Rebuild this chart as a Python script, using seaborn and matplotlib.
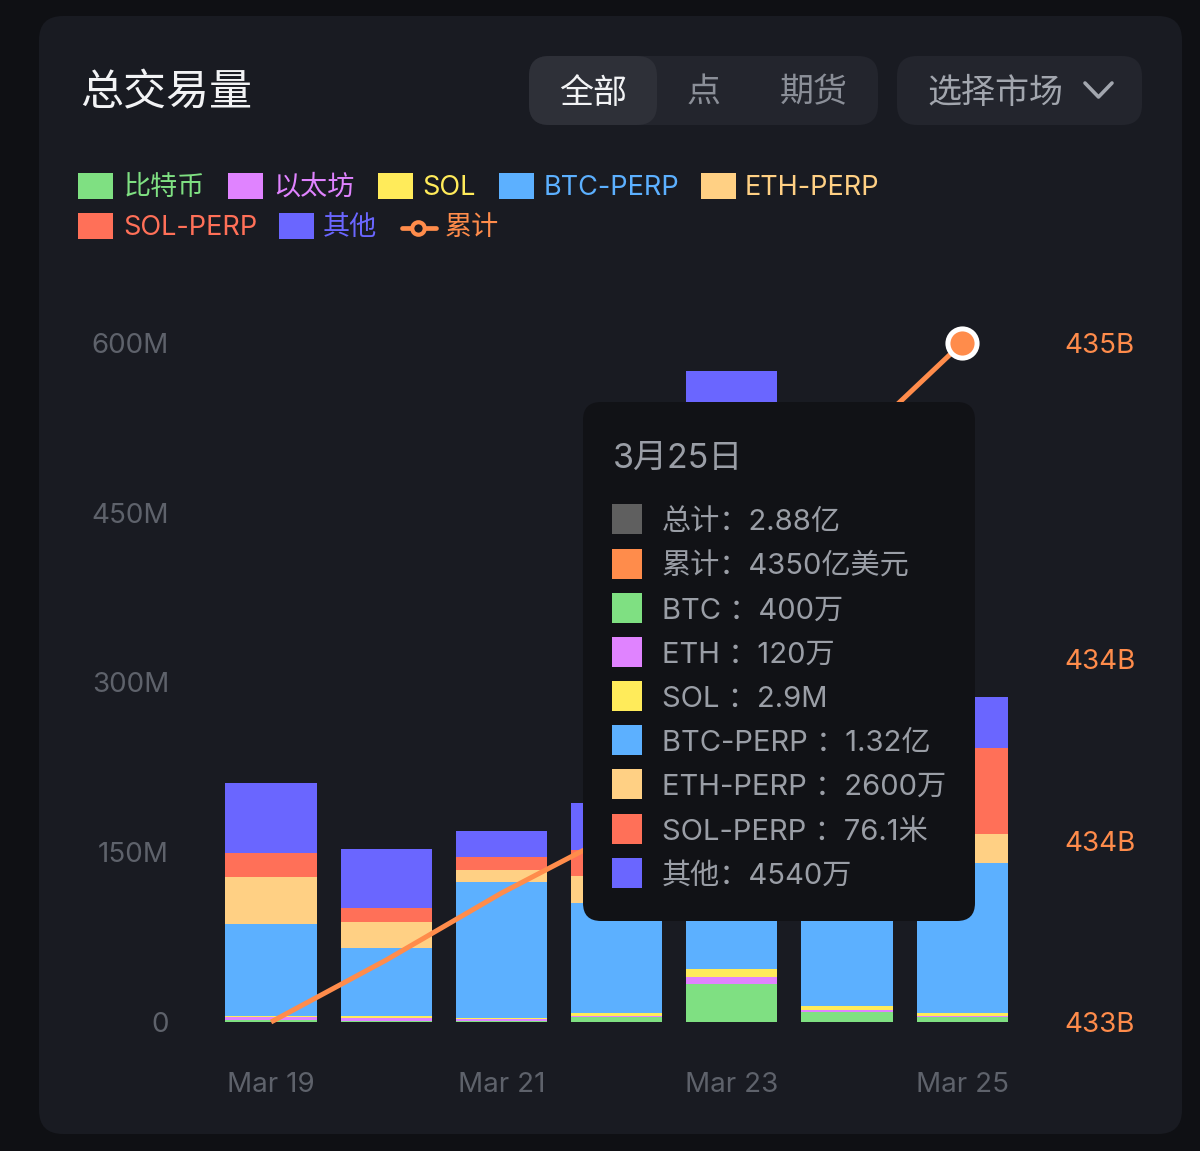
import numpy as np
import pandas as pd
import matplotlib
matplotlib.use("Agg")
import matplotlib.pyplot as plt
from matplotlib.patches import FancyBboxPatch, Rectangle
import seaborn as sns

dates = ["Mar 19", "Mar 20", "Mar 21", "Mar 22", "Mar 23", "Mar 24", "Mar 25"]
btc = [1.8, 1.2, 0.6, 4.1, 33.8, 9.1, 4.0]
eth = [2.6, 2.3, 1.8, 1.4, 5.9, 1.5, 1.2]
sol = [1.2, 1.8, 1.4, 2.7, 7.3, 3.8, 2.9]
btc_perp = [80.8, 60.1, 120.2, 96.7, 390.0, 290.0, 132.0]
eth_perp = [42.0, 23.0, 10.6, 24.4, 45.0, 40.0, 26.0]
sol_perp = [21.2, 12.7, 11.2, 22.7, 33.0, 30.0, 76.1]
other = [61.6, 51.9, 22.7, 41.3, 60.0, 44.6, 45.4]
cumulative = [433.25, 433.412, 433.587, 433.744, 434.32, 434.74, 435.025]

series_names = ["比特币", "以太坊", "SOL", "BTC-PERP", "ETH-PERP", "SOL-PERP", "其他"]
series_values = [btc, eth, sol, btc_perp, eth_perp, sol_perp, other]
series_colors = ["#7fe082", "#e083ff", "#ffeb5a", "#5cb0ff", "#ffd084", "#ff7058", "#6a66ff"]
line_color = "#ff8c4b"
cum_name = "累计"
left_ticks = [0, 150, 300, 450, 600]
left_labels = ["0", "150M", "300M", "450M", "600M"]
right_ticks = [433.25, 433.724, 434.2, 435.025]
right_labels = ["433B", "434B", "434B", "435B"]
x_labels = ["Mar 19", "", "Mar 21", "", "Mar 23", "", "Mar 25"]
title = "总交易量"
tabs = ["全部", "点", "期货"]
dropdown = "选择市场"
tip_title = "3月25日"
tip_rows = ["总计：2.88亿", "累计：4350亿美元", "BTC ：400万", "ETH ：120万", "SOL ：2.9M",
            "BTC-PERP ：1.32亿", "ETH-PERP ：2600万", "SOL-PERP ：76.1米", "其他：4540万"]
tip_colors = ["#5f5f5f", line_color] + series_colors

sns.set_theme(style="dark")
plt.rcParams["font.family"] = ["Inter", "Noto Sans CJK SC", "DejaVu Sans"]

W, H = 1200, 1151
fig = plt.figure(figsize=(W / 100, H / 100), dpi=100, facecolor="#0f1014")

def pix_axes(x0, y0, x1, y1, z):
    a = fig.add_axes([x0 / W, 1 - y1 / H, (x1 - x0) / W, (y1 - y0) / H], zorder=z)
    a.patch.set_visible(False)
    return a

# background card
bg = pix_axes(0, 0, W, H, 0)
bg.set_xlim(0, W); bg.set_ylim(H, 0); bg.axis("off")
bg.add_patch(FancyBboxPatch((39 + 24, 16 + 24), 1143 - 48, 1118 - 48, boxstyle="round,pad=24,rounding_size=24",
                            fc="#191b22", ec="none"))

# chart
ax = pix_axes(213.4, 343, 1019.8, 1022, 2)
df = pd.DataFrame({"date": dates})
bottom = np.zeros(len(dates))
for name, vals, col in zip(series_names, series_values, series_colors):
    sns.barplot(x=dates, y=vals, bottom=bottom, color=col, width=0.79, saturation=1,
                linewidth=0, ax=ax, zorder=2, label=name, legend=False)
    bottom = bottom + np.array(vals)
ax.set_xlim(-0.5, 6.5)
ax.set_ylim(0, 600)
ax.set_yticks(left_ticks, left_labels)
ax.set_xticks(range(len(dates)), x_labels)
ax.tick_params(axis="y", length=0, pad=32, labelsize=20, labelcolor="#5e626b")
ax.tick_params(axis="x", length=0, pad=36, labelsize=20, labelcolor="#5e626b")
ax.set_xlabel(""); ax.set_ylabel("")
ax.grid(False)
for s in ax.spines.values():
    s.set_visible(False)

ax2 = ax.twinx()
ax2.set_zorder(3)
ax2.patch.set_visible(False)
xpos = np.arange(len(dates))
sns.lineplot(x=xpos, y=cumulative, color=line_color, linewidth=3.6, ax=ax2, clip_on=False,
             solid_capstyle="butt", solid_joinstyle="round", errorbar=None, sort=False, legend=False)
sns.scatterplot(x=xpos[-1:], y=cumulative[-1:], color=line_color, edgecolor="white", s=441,
                linewidth=3.6, ax=ax2, clip_on=False, zorder=5, legend=False)
ax2.set_xlim(-0.5, 6.5)
ax2.set_ylim(433.25, 435.025)
ax2.set_yticks(right_ticks, right_labels)
ax2.tick_params(axis="y", length=0, pad=32, labelsize=20, labelcolor=line_color)
ax2.set_xlabel(""); ax2.set_ylabel("")
ax2.grid(False)
for s in ax2.spines.values():
    s.set_visible(False)

# overlay: header, legend, tooltip
ov = pix_axes(0, 0, W, H, 4)
ov.set_xlim(0, W); ov.set_ylim(H, 0); ov.axis("off")

def rbox(x0, y0, x1, y1, r, fc):
    ov.add_patch(FancyBboxPatch((x0 + r, y0 + r), x1 - x0 - 2 * r, y1 - y0 - 2 * r,
                                boxstyle=f"round,pad={r},rounding_size={r}", fc=fc, ec="none"))

def txt(x, y, s, size, color, ha="left"):
    ov.text(x, y, s, fontsize=size, color=color, ha=ha, va="center_baseline")

txt(80, 89, title, 31, "#f2f3f5")
rbox(529, 56, 878, 125, 20, "#23252d")
rbox(529, 56, 657, 125, 20, "#2e3038")
txt(593, 90, tabs[0], 24.5, "#f2f3f5", "center")
txt(704, 90, tabs[1], 24.5, "#8b8f98", "center")
txt(814, 90, tabs[2], 24.5, "#8b8f98", "center")
rbox(897, 56, 1142, 125, 20, "#23252d")
txt(995, 90, dropdown, 24.5, "#a2a6ae", "center")
ov.plot([1085, 1098.5, 1112], [83, 97, 83], color="#a2a6ae", lw=2.6, solid_capstyle="round")

legend_pos = [(78, 186, 124), (228, 186, 273), (378, 186, 422), (499, 186, 544), (701, 186, 745),
              (78, 226, 123), (279, 226, 323)]
for (sx, sy, tx), name, col in zip(legend_pos, series_names, series_colors):
    ov.add_patch(Rectangle((sx, sy - 13), 35, 26, fc=col, ec="none"))
    txt(tx, sy - 1, name, 19.5, col)
ov.plot([402, 436], [228, 228], color=line_color, lw=3.4)
ov.plot([418], [228], "o", ms=9, mfc="#191b22", mec=line_color, mew=3)
txt(445, 225, cum_name, 19.5, line_color)

rbox(583, 402, 975, 921, 18, "#111216")
txt(613, 455, tip_title, 24.5, "#9a9ea6")
tip_y = [519, 564, 608, 652, 696, 740, 784, 829, 873]
for y, row, col in zip(tip_y, tip_rows, tip_colors):
    ov.add_patch(Rectangle((612, y - 15), 30, 30, fc=col, ec="none"))
    txt(662, y, row, 21, "#9a9ea6")

fig.savefig("out.png", dpi=100, facecolor=fig.get_facecolor())
